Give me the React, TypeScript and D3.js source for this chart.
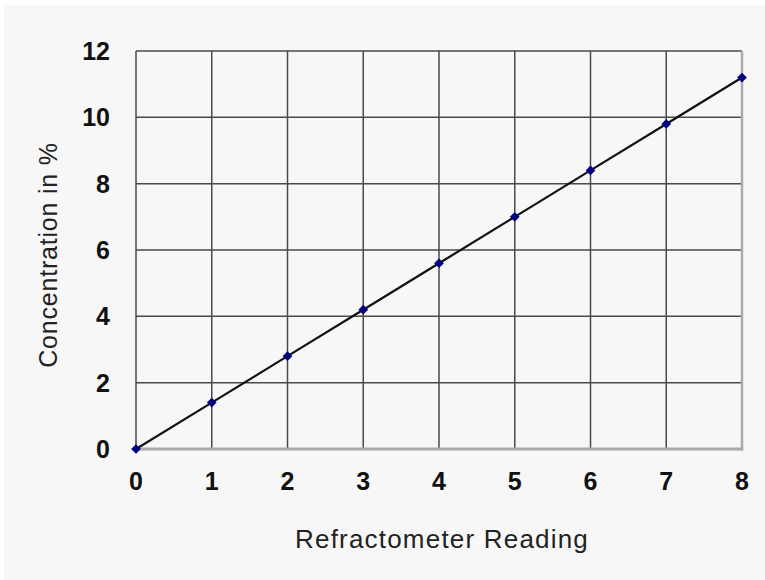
import * as d3 from 'd3';

const readings = [0, 1, 2, 3, 4, 5, 6, 7, 8];
const concentration = [0, 1.4, 2.8, 4.2, 5.6, 7.0, 8.4, 9.8, 11.2];
const xTicks = [0, 1, 2, 3, 4, 5, 6, 7, 8];
const yTicks = [0, 2, 4, 6, 8, 10, 12];

const W = 765;
const H = 580;
const margin = { left: 136, right: 23, top: 51, bottom: 131 };
const FONT = 'Liberation Sans, Arial, sans-serif';

export default function App() {
  const x = d3.scaleLinear().domain([0, 8]).range([margin.left, W - margin.right]);
  const y = d3.scaleLinear().domain([0, 12]).range([H - margin.bottom, margin.top]);

  const pts = readings.map((r, i) => ({ r, c: concentration[i] }));
  const line = d3.line<{ r: number; c: number }>()
    .x((d) => x(d.r))
    .y((d) => y(d.c));
  const diamond = d3.symbol().type(d3.symbolDiamond2).size(60)();

  const [x0, x1] = x.range();
  const [y0, y1] = y.range();

  return (
    <svg width={W} height={H} style={{ position: 'absolute', left: 0, top: 0, display: 'block' }}>
      <rect x={0} y={0} width={W} height={H} fill="#ffffff" />
      <rect x={4} y={5} width={W - 4} height={H - 5} fill="#f7f7f7" />

      {/* grid */}
      {xTicks.slice(1, -1).map((t) => (
        <line key={'gx' + t} x1={x(t)} x2={x(t)} y1={y1} y2={y0} stroke="#4a4a4a" strokeWidth={1.5} />
      ))}
      {yTicks.slice(1, -1).map((t) => (
        <line key={'gy' + t} x1={x0} x2={x1} y1={y(t)} y2={y(t)} stroke="#4a4a4a" strokeWidth={1.5} />
      ))}
      {/* frame */}
      <line x1={x0} x2={x1} y1={y1} y2={y1} stroke="#4a4a4a" strokeWidth={1.5} />
      <line x1={x0} x2={x0} y1={y1} y2={y0} stroke="#4a4a4a" strokeWidth={1.5} />
      <line x1={x1} x2={x1} y1={y1} y2={y0 + 1.5} stroke="#aaa" strokeWidth={2.5} />
      <line x1={x0} x2={x1 + 1.2} y1={y0} y2={y0} stroke="#aaa" strokeWidth={3} />

      {/* series */}
      <path d={line(pts) ?? ''} fill="none" stroke="#111" strokeWidth={2.2} />
      {pts.map((d) => (
        <path key={d.r} d={diamond ?? ''} transform={`translate(${x(d.r)},${y(d.c)})`} fill="#000080" />
      ))}

      {/* tick labels */}
      {xTicks.map((t) => (
        <text key={'tx' + t} x={x(t)} y={y0 + 41} textAnchor="middle" fontFamily={FONT} fontWeight="bold" fontSize={25} fill="#111">
          {t}
        </text>
      ))}
      {yTicks.map((t) => (
        <text key={'ty' + t} x={x0 - 26} y={y(t) + 9} textAnchor="end" fontFamily={FONT} fontWeight="bold" fontSize={25} fill="#111">
          {t}
        </text>
      ))}

      {/* axis titles */}
      <text x={442} y={548} textAnchor="middle" fontFamily={FONT} fontSize={26} letterSpacing={1.2} fill="#222">
        Refractometer Reading
      </text>
      <text transform={`translate(57,255) rotate(-90)`} textAnchor="middle" fontFamily={FONT} fontSize={25} letterSpacing={0.8} fill="#222">
        Concentration in %
      </text>
    </svg>
  );
}
